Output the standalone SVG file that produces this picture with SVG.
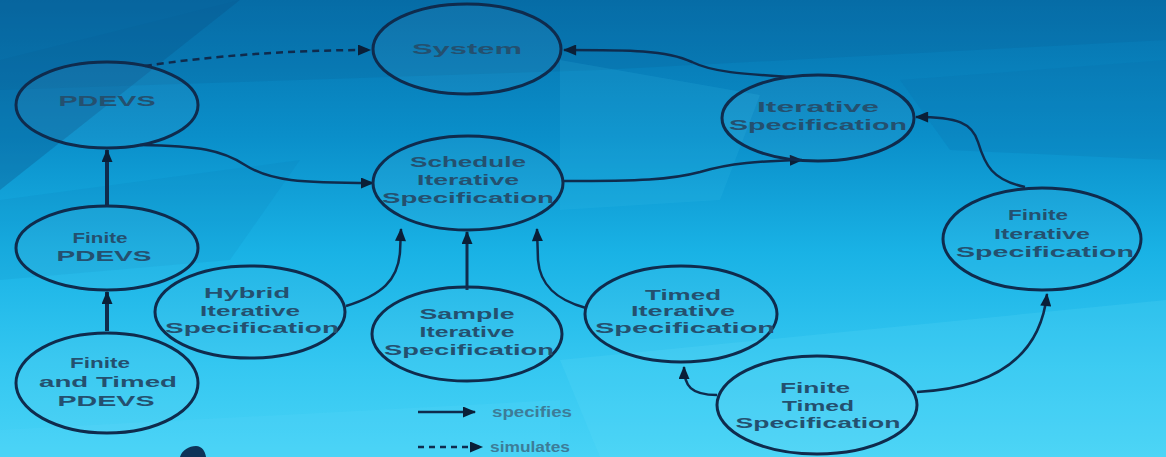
<svg xmlns="http://www.w3.org/2000/svg" width="1166" height="457" viewBox="0 0 1166 457">
<defs>
<linearGradient id="bg" x1="0" y1="0" x2="0" y2="1">
<stop offset="0" stop-color="#0670ab"/>
<stop offset="0.3" stop-color="#0a8fca"/>
<stop offset="0.55" stop-color="#19b2e5"/>
<stop offset="0.8" stop-color="#34c7f1"/>
<stop offset="1" stop-color="#48d3f6"/>
</linearGradient>
<marker id="ah" viewBox="0 0 12 10" refX="11" refY="5" markerWidth="14" markerHeight="11" markerUnits="userSpaceOnUse" orient="auto">
<path d="M0,0 L12,5 L0,10 z" fill="#0a1f38"/>
</marker>
<style>
.node ellipse{fill:#ffffff;fill-opacity:0.04;stroke:#0f2b4d;stroke-width:3}
.node text{font-family:"Liberation Sans",Arial,sans-serif;font-size:15px;font-weight:bold;fill:#24506f;text-anchor:middle}
.c{fill:none;stroke:#0f2b4d;stroke-width:2.5;marker-end:url(#ah)}
.d{stroke-dasharray:7 5}
.legend text{font-family:"Liberation Sans",Arial,sans-serif;font-size:14px;font-weight:bold;fill:#3d7c98}
</style>
</defs>
<g id="background">
<rect width="1166" height="457" fill="url(#bg)"/>
<polygon points="0,0 240,0 0,190" fill="#0b4d80" opacity="0.3"/>
<polygon points="240,0 1166,0 1166,40 600,70 0,90 0,60" fill="#0a5f98" opacity="0.2"/>
<polygon points="560,60 760,95 720,200 560,210" fill="#3cc2ee" opacity="0.15"/>
<polygon points="900,80 1166,60 1166,160 950,150" fill="#0a6ca8" opacity="0.2"/>
<polygon points="0,200 300,160 230,260 0,280" fill="#0a6aa5" opacity="0.1"/>
<polygon points="560,360 1166,300 1166,457 600,457" fill="#62dcfa" opacity="0.18"/>
<polygon points="0,430 560,400 560,457 0,457" fill="#5ad9f8" opacity="0.2"/>
<path d="M180,457 C182,450 189,446 196,446 C202,446 205,451 206,457 Z" fill="#0d3358"/>
</g>
<g id="connectors">
<path class="c d" d="M145,66 C210,56 290,50 370,50"/>
<path class="c" d="M790,77 C742,74 712,72 692,62 C666,50 630,50 564,50"/>
<path class="c" d="M140,145 C200,146 222,150 245,165 C270,181 300,183 373,183"/>
<path class="c" d="M563,181 C640,181 670,180 700,172 C730,163 760,161 802,160"/>
<path class="c" d="M1025,187 C992,180 985,165 978,142 C972,123 958,117 916,117"/>
<path class="c" d="M107,206 L107,150" style="stroke-width:4"/>
<path class="c" d="M107,331 L107,292" style="stroke-width:4"/>
<path class="c" d="M346,306 C382,295 398,280 400,252 L401,229"/>
<path class="c" d="M467,290 L467,232" style="stroke-width:3"/>
<path class="c" d="M586,308 C556,300 540,285 538,260 L537,229"/>
<path class="c" d="M717,395 C691,395 684,386 684,367"/>
<path class="c" d="M917,392 C990,388 1040,360 1047,294"/>
</g>
<g id="n-system" class="node"><ellipse cx="467" cy="49" rx="94" ry="45"/><text x="467" y="54" textLength="110" lengthAdjust="spacingAndGlyphs">System</text></g>
<g id="n-pdevs" class="node"><ellipse cx="107" cy="105" rx="91" ry="43"/><text x="107" y="106" textLength="97" lengthAdjust="spacingAndGlyphs">PDEVS</text></g>
<g id="n-iterative" class="node"><ellipse cx="818" cy="118" rx="96" ry="43"/><text x="818" y="112" textLength="122" lengthAdjust="spacingAndGlyphs">Iterative</text><text x="818" y="130" textLength="178" lengthAdjust="spacingAndGlyphs">Specification</text></g>
<g id="n-schedule" class="node"><ellipse cx="468" cy="183" rx="95" ry="47"/><text x="468" y="167" textLength="116" lengthAdjust="spacingAndGlyphs">Schedule</text><text x="468" y="185" textLength="102" lengthAdjust="spacingAndGlyphs">Iterative</text><text x="468" y="203" textLength="172" lengthAdjust="spacingAndGlyphs">Specification</text></g>
<g id="n-finite-pdevs" class="node"><ellipse cx="107" cy="248" rx="91" ry="42"/><text x="100" y="243" textLength="55" lengthAdjust="spacingAndGlyphs">Finite</text><text x="104" y="261" textLength="95" lengthAdjust="spacingAndGlyphs">PDEVS</text></g>
<g id="n-finite-iterative" class="node"><ellipse cx="1042" cy="239" rx="99" ry="51"/><text x="1038" y="220" textLength="60" lengthAdjust="spacingAndGlyphs">Finite</text><text x="1042" y="239" textLength="96" lengthAdjust="spacingAndGlyphs">Iterative</text><text x="1045" y="257" textLength="178" lengthAdjust="spacingAndGlyphs">Specification</text></g>
<g id="n-hybrid" class="node"><ellipse cx="250" cy="312" rx="95" ry="46"/><text x="247" y="298" textLength="86" lengthAdjust="spacingAndGlyphs">Hybrid</text><text x="250" y="316" textLength="100" lengthAdjust="spacingAndGlyphs">Iterative</text><text x="252" y="333" textLength="174" lengthAdjust="spacingAndGlyphs">Specification</text></g>
<g id="n-sample" class="node"><ellipse cx="467" cy="334" rx="95" ry="47"/><text x="467" y="319" textLength="95" lengthAdjust="spacingAndGlyphs">Sample</text><text x="467" y="337" textLength="95" lengthAdjust="spacingAndGlyphs">Iterative</text><text x="469" y="355" textLength="170" lengthAdjust="spacingAndGlyphs">Specification</text></g>
<g id="n-timed" class="node"><ellipse cx="681" cy="314" rx="96" ry="48"/><text x="683" y="300" textLength="76" lengthAdjust="spacingAndGlyphs">Timed</text><text x="683" y="316" textLength="104" lengthAdjust="spacingAndGlyphs">Iterative</text><text x="685" y="333" textLength="180" lengthAdjust="spacingAndGlyphs">Specification</text></g>
<g id="n-finite-timed" class="node"><ellipse cx="817" cy="405" rx="100" ry="49"/><text x="815" y="393" textLength="70" lengthAdjust="spacingAndGlyphs">Finite</text><text x="818" y="411" textLength="72" lengthAdjust="spacingAndGlyphs">Timed</text><text x="818" y="428" textLength="165" lengthAdjust="spacingAndGlyphs">Specification</text></g>
<g id="n-finite-timed-pdevs" class="node"><ellipse cx="107" cy="383" rx="91" ry="50"/><text x="100" y="368" textLength="60" lengthAdjust="spacingAndGlyphs">Finite</text><text x="108" y="387" textLength="138" lengthAdjust="spacingAndGlyphs">and Timed</text><text x="106" y="406" textLength="97" lengthAdjust="spacingAndGlyphs">PDEVS</text></g>
<g id="legend" class="legend">
<path class="c" d="M418,412 L475,412" style="stroke-width:2.5"/>
<text x="492" y="417" textLength="80" lengthAdjust="spacingAndGlyphs">specifies</text>
<path class="c d" d="M418,447 L482,447" style="stroke-dasharray:6 5"/>
<text x="490" y="452" textLength="80" lengthAdjust="spacingAndGlyphs">simulates</text>
</g>
</svg>
